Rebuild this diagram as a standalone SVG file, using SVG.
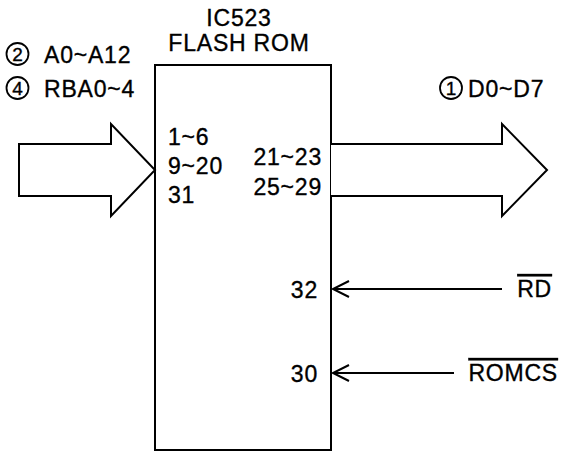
<svg xmlns="http://www.w3.org/2000/svg" width="568" height="452" viewBox="0 0 568 452">
<defs>
<style>
text{font-family:"Liberation Sans",Arial,sans-serif;font-size:23px;fill:#000;stroke:#000;stroke-width:0.35px;letter-spacing:0.8px}
.num{font-size:19px;letter-spacing:0}
.ln{fill:none;stroke:#000;stroke-width:2}
.circ{fill:none;stroke:#000;stroke-width:1.8}
.bus{fill:#fff;stroke:#000;stroke-width:2;stroke-linejoin:miter}
.ov{text-decoration:overline}
</style>
</defs>
<rect width="568" height="452" fill="#fff"/>
<g id="ic523">
<rect x="155" y="65" width="176" height="385" class="ln"/>
<text x="239" y="26" text-anchor="middle">IC523</text>
<text x="239" y="51" text-anchor="middle">FLASH ROM</text>
<text x="168" y="145">1~6</text>
<text x="168" y="174">9~20</text>
<text x="168" y="203">31</text>
<text x="322" y="165" text-anchor="end">21~23</text>
<text x="322" y="195" text-anchor="end">25~29</text>
<text x="318" y="298" text-anchor="end">32</text>
<text x="318" y="382" text-anchor="end">30</text>
</g>
<g id="addr-bus">
<circle cx="17.5" cy="54" r="11" class="circ"/>
<text x="17.5" y="61" class="num" text-anchor="middle">2</text>
<text x="44" y="63">A0~A12</text>
<circle cx="17.5" cy="88" r="11" class="circ"/>
<text x="17.5" y="95" class="num" text-anchor="middle">4</text>
<text x="44" y="97">RBA0~4</text>
</g>
<g id="data-bus">
<circle cx="451" cy="88" r="11" class="circ"/>
<text x="451" y="95" class="num" text-anchor="middle">1</text>
<text x="468" y="97">D0~D7</text>
</g>
<g id="rd"><text x="552" y="297" text-anchor="end" class="ov">RD</text></g>
<g id="romcs"><text x="558" y="381" text-anchor="end" class="ov">ROMCS</text></g>
<g id="connectors">
<polygon class="bus" points="19,144 111,144 111,124 155,170 111,216 111,196 19,196"/>
<polyline class="bus" points="331,144 502,144 502,124 547,170 502,216 502,196 331,196"/>
<line class="ln" x1="502" y1="289" x2="333" y2="289"/>
<polyline class="ln" points="349,281 333,289 349,297"/>
<line class="ln" x1="454" y1="373" x2="333" y2="373"/>
<polyline class="ln" points="349,365 333,373 349,381"/>
</g>
</svg>
